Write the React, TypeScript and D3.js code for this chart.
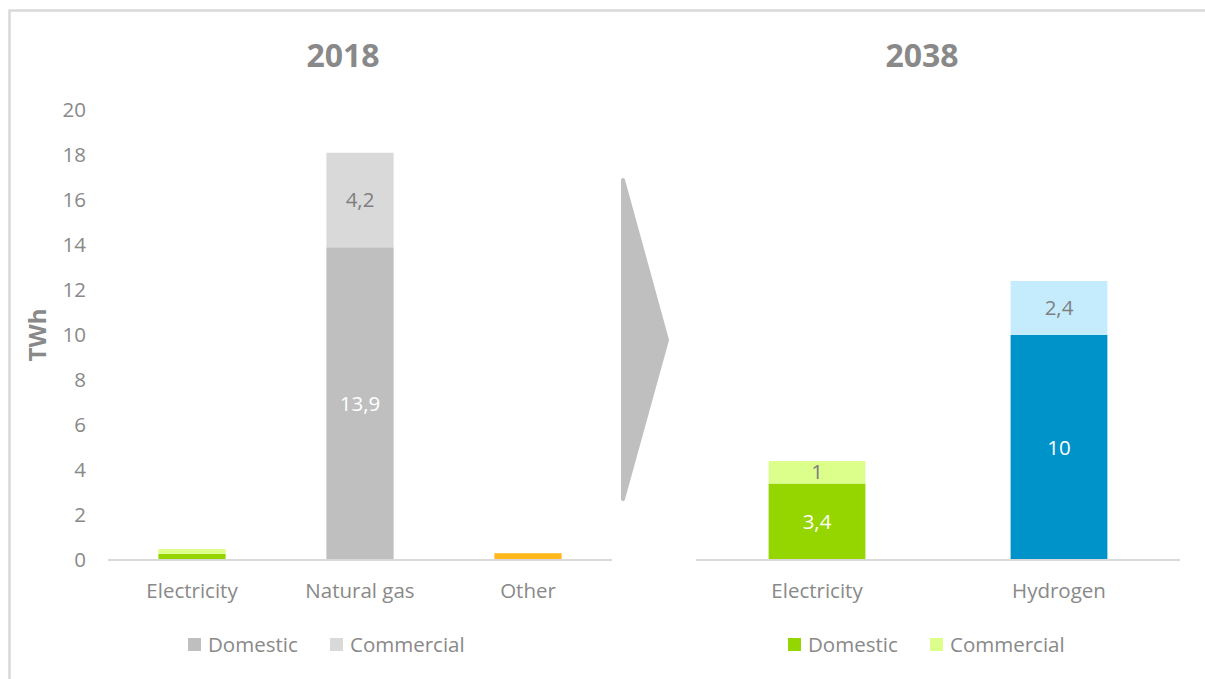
import React from 'react';
import * as d3 from 'd3';

// 2018 values (TWh)
const categories2018 = ['Electricity', 'Natural gas', 'Other'];
const domestic2018 = [0.27, 13.9, 0.3];
const commercial2018 = [0.22, 4.2, 0];
const domesticColors2018 = ['#96d600', '#bfbfbf', '#ffb81c'];
const commercialColors2018 = ['#dcff8c', '#d9d9d9', '#d9d9d9'];

// 2038 values (TWh)
const categories2038 = ['Electricity', 'Hydrogen'];
const domestic2038 = [3.4, 10];
const commercial2038 = [1, 2.4];
const domesticColors2038 = ['#96d600', '#0093c9'];
const commercialColors2038 = ['#dcff8c', '#c4ecfc'];

const yTicks = [0, 2, 4, 6, 8, 10, 12, 14, 16, 18, 20];
const legendLabels = ['Domestic', 'Commercial'];
const legendColors2018 = ['#bfbfbf', '#d9d9d9'];
const legendColors2038 = ['#96d600', '#dcff8c'];

const W = 1205;
const H = 679;
const FONT = '"Open Sans", "Noto Sans", sans-serif';
const TXT = '#898989';
const FS = 20.5;
const top = 110;
const base = 560;

const fmt = (v: number) => String(v).replace('.', ',');

type PanelProps = {
  title: string;
  titleX: number;
  cats: string[];
  dom: number[];
  com: number[];
  domC: string[];
  comC: string[];
  x0: number;
  x1: number;
  legendX: number;
  legendC: string[];
  showAxis?: boolean;
};

const Panel = ({ title, titleX, cats, dom, com, domC, comC, x0, x1, legendX, legendC, showAxis }: PanelProps) => {
  const x = d3.scaleBand().domain(cats).range([x0, x1]).paddingInner(0.6).paddingOuter(0.3);
  const y = d3.scaleLinear().domain([0, 20]).range([base, top]);
  const bw = x.bandwidth();

  return (
    <g fontFamily={FONT}>
      <text x={titleX} y={67} textAnchor="middle" fontSize={32} fontWeight="bold" fill={TXT}>{title}</text>

      {showAxis && yTicks.map(t => (
        <text key={t} x={86} y={y(t)} dy="0.35em" textAnchor="end" fontSize={FS} fill={TXT}>{t}</text>
      ))}
      {showAxis && (
        <text transform={`translate(38,${(top + base) / 2}) rotate(-90)`} textAnchor="middle" dy="0.35em"
          fontSize={24} fontWeight="bold" fill={TXT}>TWh</text>
      )}

      {cats.map((c, i) => {
        const bx = x(c)!;
        const d = dom[i];
        const cm = com[i];
        return (
          <g key={c}>
            <rect x={bx} y={y(d)} width={bw} height={y(0) - y(d)} fill={domC[i]} />
            {cm > 0 && <rect x={bx} y={y(d + cm)} width={bw} height={y(d) - y(d + cm)} fill={comC[i]} />}
            {d >= 1 && (
              <text x={bx + bw / 2} y={(y(0) + y(d)) / 2} dy="0.35em" textAnchor="middle" fontSize={FS} fill="#ffffff">{fmt(d)}</text>
            )}
            {cm >= 1 && (
              <text x={bx + bw / 2} y={(y(d) + y(d + cm)) / 2} dy="0.35em" textAnchor="middle" fontSize={FS} fill="#7f7f7f">{fmt(cm)}</text>
            )}
            <text x={bx + bw / 2} y={591} dy="0.35em" textAnchor="middle" fontSize={FS} fill={TXT}>{c}</text>
          </g>
        );
      })}

      <line x1={x0} x2={x1} y1={base} y2={base} stroke="#d9d9d9" strokeWidth={2} />

      {legendLabels.map((l, i) => {
        const lx = legendX + i * 142;
        return (
          <g key={l}>
            <rect x={lx} y={638} width={13} height={13} fill={legendC[i]} />
            <text x={lx + 20} y={645} dy="0.35em" fontSize={FS} fill={TXT}>{l}</text>
          </g>
        );
      })}
    </g>
  );
};

export default function App() {
  // chevron between the two panels
  const ax = 623;
  const arrow = `M${ax},180 L${ax + 44},340 L${ax},499 Z`;
  return (
    <svg width={W} height={H} style={{ position: 'absolute', left: 0, top: 0, background: '#fff' }}>
      <rect x={0} y={0} width={W} height={H} fill="#ffffff" />
      <rect x={9.5} y={10.5} width={W + 100} height={H + 100} fill="none" stroke="#d9d9d9" strokeWidth={2.5} />
      <Panel title="2018" titleX={343} cats={categories2018} dom={domestic2018} com={commercial2018}
        domC={domesticColors2018} comC={commercialColors2018} x0={108} x1={612} legendX={188}
        legendC={legendColors2018} showAxis />
      <Panel title="2038" titleX={922} cats={categories2038} dom={domestic2038} com={commercial2038}
        domC={domesticColors2038} comC={commercialColors2038} x0={696} x1={1180} legendX={788}
        legendC={legendColors2038} />
      <path d={arrow} fill="#bfbfbf" stroke="#bfbfbf" strokeWidth={4} strokeLinejoin="round" />
    </svg>
  );
}
